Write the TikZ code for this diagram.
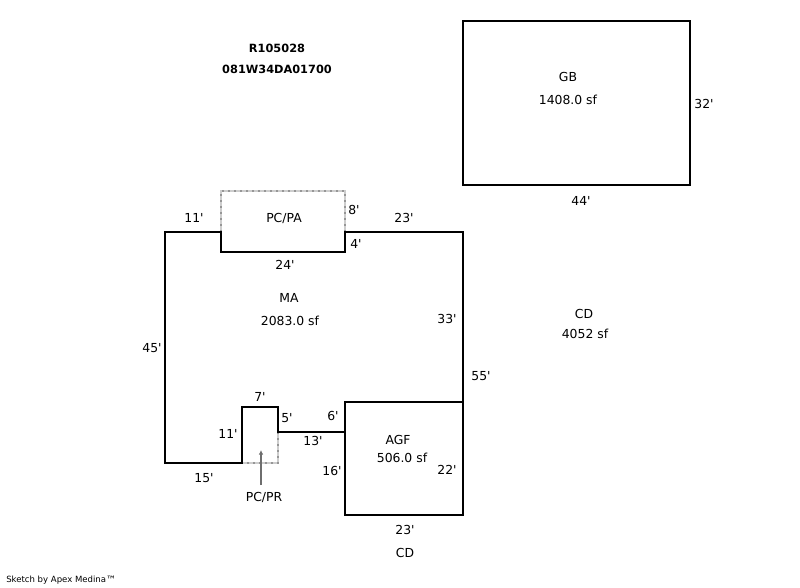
\documentclass[tikz,border=0pt]{standalone}
\usepackage{fontspec}
\setmainfont{DejaVu Sans}[Ligatures=TeXOff]
\usetikzlibrary{arrows.meta}
\definecolor{dotlight}{RGB}{205,205,205}
\definecolor{dotgray}{RGB}{150,150,150}
\definecolor{arrowgray}{RGB}{110,110,110}
\tikzset{
  wall/.style={draw=black,line width=1.5pt,line cap=rect,line join=miter},
  porchbase/.style={draw=dotlight,line width=1.5pt},
  porch/.style={draw=dotgray,line width=1.5pt,dash pattern=on 1.5pt off 3pt},
  lbl/.style={inner sep=0pt,font=\fontsize{9.3}{11}\selectfont,text=black},
  boldlbl/.style={inner sep=0pt,font=\fontsize{8.5}{10}\selectfont\bfseries,text=black},
  credit/.style={inner sep=0pt,font=\fontsize{6.4}{8}\selectfont,text=black},
}
\begin{document}
\begin{tikzpicture}[x=0.75pt,y=-0.75pt]
\useasboundingbox[fill=white] (0,0) rectangle (800,587);
% dotted porches
\draw[porchbase] (221,232) -- (221,191) -- (345,191) -- (345,232);
\draw[porch] (221,232) -- (221,191) -- (345,191) -- (345,232);
\draw[porchbase] (278,432) -- (278,463) -- (242,463);
\draw[porch] (278,432) -- (278,463) -- (242,463);
% walls
\draw[wall] (463,21) rectangle (690,185);
\draw[wall] (165,232) -- (221,232) -- (221,252) -- (345,252) -- (345,232) -- (463,232) -- (463,402)
  -- (345,402) -- (345,432) -- (278,432) -- (278,407) -- (242,407) -- (242,463) -- (165,463) -- cycle;
\draw[wall] (345,402) -- (345,515) -- (463,515) -- (463,402);
% arrow
\draw[arrowgray,line width=1.5pt,-{Latex[length=3.5pt,width=3.5pt]}] (261,485) -- (261,450);
% labels
\node[boldlbl] (t1) at (277,48) {R105028};
\node[boldlbl] (t2) at (277,69) {081W34DA01700};
\node[lbl] (gb) at (568,77) {GB};
\node[lbl] (gba) at (568,100) {1408.0 sf};
\node[lbl] (d32) at (704,104) {32'};
\node[lbl] (d44) at (581,201) {44'};
\node[lbl] (d11a) at (194,218) {11'};
\node[lbl] (pcpa) at (284,218) {PC/PA};
\node[lbl] (d8) at (354,210) {8'};
\node[lbl] (d23a) at (404,218) {23'};
\node[lbl] (d4) at (356,244) {4'};
\node[lbl] (d24) at (285,265) {24'};
\node[lbl] (ma) at (289,298) {MA};
\node[lbl] (maa) at (290,321) {2083.0 sf};
\node[lbl] (d33) at (447,319) {33'};
\node[lbl] (cd) at (584,314) {CD};
\node[lbl] (cda) at (585,334) {4052 sf};
\node[lbl] (d45) at (152,348) {45'};
\node[lbl] (d55) at (481,376) {55'};
\node[lbl] (d7) at (260,397) {7'};
\node[lbl] (d5) at (287,418) {5'};
\node[lbl] (d6) at (333,416) {6'};
\node[lbl] (d11b) at (228,434) {11'};
\node[lbl] (d13) at (313,441) {13'};
\node[lbl] (agf) at (398,440) {AGF};
\node[lbl] (agfa) at (402,458) {506.0 sf};
\node[lbl] (d22) at (447,470) {22'};
\node[lbl] (d16) at (332,471) {16'};
\node[lbl] (d15) at (204,478) {15'};
\node[lbl] (pcpr) at (264,497) {PC/PR};
\node[lbl] (d23b) at (405,530) {23'};
\node[lbl] (cdb) at (405,553) {CD};
\node[credit,anchor=west] (cr) at (6,580) {Sketch by Apex Medina\raisebox{-1pt}{\fontsize{7.6}{8}\selectfont ™}};
\end{tikzpicture}
\end{document}
